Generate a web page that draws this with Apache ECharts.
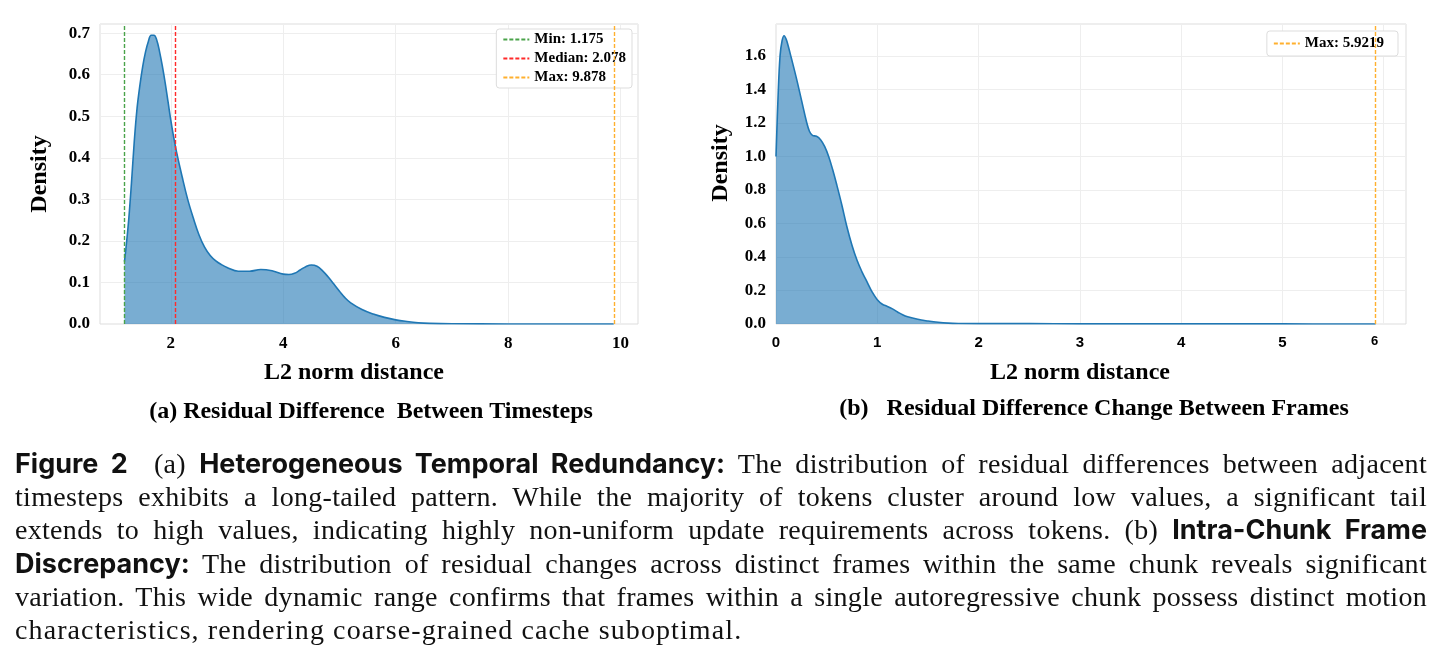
<!DOCTYPE html>
<html>
<head>
<meta charset="utf-8">
<script src="https://cdn.jsdelivr.net/npm/echarts@6/dist/echarts.min.js"></script>
<style>
  html, body { margin: 0; padding: 0; background: #fff; }
  #chart { position: absolute; left: 0; top: 0; width: 1444px; height: 668px; }
  #caption {
    position: absolute; left: 15px; top: 447px; width: 1412px;
    font-family: 'Liberation Serif', serif; font-size: 28px; line-height: 33.2px;
    letter-spacing: 0.3px; color: #111;
  }
  #caption div { text-align: justify; text-align-last: justify; white-space: nowrap; }
  #caption div.last { text-align-last: left; letter-spacing: 1.1px; }
  #caption b { font-family: Inter, sans-serif; font-weight: 700; font-size: 27px; letter-spacing: 0; }
</style>
</head>
<body>
<div id="chart"></div>
<div id="caption">
  <div><b>Figure 2</b>&nbsp; (a) <b>Heterogeneous Temporal Redundancy:</b> The distribution of residual differences between adjacent</div>
  <div>timesteps exhibits a long-tailed pattern. While the majority of tokens cluster around low values, a significant tail</div>
  <div>extends to high values, indicating highly non-uniform update requirements across tokens. (b) <b>Intra-Chunk Frame</b></div>
  <div><b>Discrepancy:</b> The distribution of residual changes across distinct frames within the same chunk reveals significant</div>
  <div>variation. This wide dynamic range confirms that frames within a single autoregressive chunk possess distinct motion</div>
  <div class="last">characteristics, rendering coarse-grained cache suboptimal.</div>
</div>
<script>
// (a) residual difference between timesteps - KDE
const leftX = [1.175, 1.2, 1.25, 1.3, 1.35, 1.4, 1.45, 1.5, 1.55, 1.6, 1.65, 1.7, 1.75, 1.8, 1.85, 1.9, 1.95, 2.0, 2.05, 2.1,
  2.2, 2.3, 2.4, 2.5, 2.6, 2.7, 2.8, 2.9, 3.0, 3.2, 3.4, 3.6, 3.8, 4.0, 4.1, 4.2, 4.3, 4.4, 4.5, 4.6, 4.7, 4.8, 4.9, 5.0,
  5.1, 5.2, 5.4, 5.6, 5.8, 6.0, 6.2, 6.4, 6.6, 7.0, 8.0, 9.0, 9.878];
const leftY = [0.15, 0.18, 0.25, 0.34, 0.44, 0.52, 0.575, 0.62, 0.655, 0.68, 0.695, 0.695, 0.683, 0.655, 0.62, 0.58, 0.535, 0.49, 0.45, 0.415,
  0.355, 0.3, 0.255, 0.215, 0.185, 0.165, 0.152, 0.143, 0.136, 0.127, 0.127, 0.131, 0.128, 0.12, 0.119, 0.122, 0.13, 0.138, 0.142, 0.139, 0.128, 0.113, 0.096, 0.079,
  0.063, 0.051, 0.035, 0.024, 0.016, 0.01, 0.006, 0.003, 0.0015, 0.0005, 0.0001, 0, 0];
const leftTicks = [2, 4, 6, 8, 10];
const leftStats = [['Min: 1.175', 1.175, '#4aa34a'], ['Median: 2.078', 2.078, '#ff2a2a'], ['Max: 9.878', 9.878, '#ffb02e']];

// (b) residual difference change between frames
const rightX = [0, 0.02, 0.04, 0.06, 0.08, 0.1, 0.12, 0.15, 0.2, 0.25, 0.3, 0.33, 0.36, 0.4, 0.44, 0.48, 0.52, 0.56, 0.6, 0.65,
  0.7, 0.75, 0.8, 0.85, 0.9, 0.95, 1.0, 1.05, 1.1, 1.15, 1.2, 1.25, 1.3, 1.4, 1.5, 1.6, 1.7, 1.8, 2.0, 2.5, 3.0, 4.0, 5.0, 5.92];
const rightY = [1.0, 1.35, 1.6, 1.69, 1.72, 1.70, 1.66, 1.59, 1.47, 1.34, 1.21, 1.15, 1.125, 1.12, 1.10, 1.06, 1.0, 0.92, 0.83, 0.71,
  0.58, 0.47, 0.38, 0.31, 0.25, 0.19, 0.145, 0.118, 0.105, 0.09, 0.072, 0.055, 0.043, 0.028, 0.018, 0.01, 0.005, 0.003, 0.002, 0.002, 0.001, 0.001, 0.0005, 0];
const rightTicks = [0, 1, 2, 3, 4, 5, 6];
const rightStats = [['Max: 5.9219', 5.9219, '#ffb02e']];

const serif = 'Liberation Serif';
const blue = '#1f77b4';
const chart = echarts.init(document.getElementById('chart'));

function axisX(grid, min, max, ticks, sans, namePad) {
  const last = ticks[ticks.length - 1];
  return {
    type: 'value', gridIndex: grid, min: min, max: max,
    name: 'L2 norm distance', nameLocation: 'middle', nameGap: 37,
    nameTextStyle: { fontFamily: serif, fontWeight: 'bold', fontSize: 24, color: '#000', padding: [0, namePad, 0, 0] },
    axisLine: { show: false },
    axisTick: { show: false, customValues: ticks },
    splitLine: { lineStyle: { color: '#eeeeee', width: 1 } },
    axisLabel: {
      margin: 11, color: '#000', fontWeight: 'bold',
      fontFamily: sans ? 'Liberation Sans' : serif, fontSize: sans ? 15 : 17,
      customValues: ticks,
      formatter: function (v) {
        if (sans && v === last) return '{s|' + v + '}';
        return String(v);
      },
      rich: { s: { fontFamily: 'Liberation Sans', fontWeight: 'bold', fontSize: 13, padding: [0, 18, 4, 0] } }
    }
  };
}
function axisY(grid, max, interval, gap, namePad) {
  return {
    type: 'value', gridIndex: grid, min: 0, max: max, interval: interval,
    name: 'Density', nameLocation: 'middle', nameGap: gap,
    nameTextStyle: { fontFamily: serif, fontWeight: 'bold', fontSize: 24, color: '#000', padding: [0, 0, 0, namePad] },
    axisLine: { show: false }, axisTick: { show: false },
    splitLine: { lineStyle: { color: '#eeeeee', width: 1 } },
    axisLabel: {
      margin: 10, color: '#000', fontWeight: 'bold', fontFamily: serif, fontSize: 17,
      showMaxLabel: false,
      formatter: function (v) { return v.toFixed(1); }
    }
  };
}
function statSeries(s, ax) {
  return {
    name: s[0], type: 'line', xAxisIndex: ax, yAxisIndex: ax, data: [], z: 10,
    symbol: 'none', lineStyle: { color: s[2], type: [4, 2], width: 1.4 },
    itemStyle: { color: s[2] },
    markLine: {
      silent: true, symbol: 'none', label: { show: false }, z: 10,
      lineStyle: { color: s[2], type: [4, 2], width: 1.4, opacity: 1 },
      data: [{ xAxis: s[1] }]
    }
  };
}
function legendOf(stats, right, top, pad) {
  return {
    data: stats.map(s => s[0]),
    orient: 'vertical', right: right, top: top,
    backgroundColor: '#fff', borderColor: '#dddddd', borderWidth: 1, borderRadius: 3,
    padding: pad, itemGap: 4, itemWidth: 26, itemHeight: 14,
    itemStyle: { opacity: 0 },
    textStyle: { fontFamily: serif, fontWeight: 'bold', fontSize: 15, color: '#000' }
  };
}

const option = {
  backgroundColor: '#fff',
  animation: false,
  grid: [
    { left: 100, top: 24, width: 538, height: 300, show: true, borderColor: '#dddddd', borderWidth: 1, backgroundColor: 'transparent' },
    { left: 776, top: 24, width: 630, height: 300, show: true, borderColor: '#dddddd', borderWidth: 1, backgroundColor: 'transparent' }
  ],
  xAxis: [axisX(0, 0.74, 10.31, leftTicks, false, 30), axisX(1, 0, 6.22, rightTicks, true, 22)],
  yAxis: [axisY(0, 0.722, 0.1, 48, 0), axisY(1, 1.79, 0.2, 43, 22)],
  legend: [legendOf(leftStats, 812, 29, [3, 6, 3, 6]), legendOf(rightStats, 46, 31, [5, 14, 5, 6])],
  graphic: [
    { type: 'text', x: 371, y: 412, style: { text: '(a) Residual Difference  Between Timesteps', textAlign: 'center', textVerticalAlign: 'middle', fontFamily: serif, fontWeight: 'bold', fontSize: 24, fill: '#000' } },
    { type: 'text', x: 1094, y: 409, style: { text: '(b)   Residual Difference Change Between Frames', textAlign: 'center', textVerticalAlign: 'middle', fontFamily: serif, fontWeight: 'bold', fontSize: 24, fill: '#000' } }
  ],
  series: [
    {
      type: 'line', xAxisIndex: 0, yAxisIndex: 0, smooth: 0.4, symbol: 'none', z: 1,
      data: leftX.map((x, i) => [x, leftY[i]]),
      lineStyle: { color: blue, width: 1.6 },
      areaStyle: { color: blue, opacity: 0.6 }
    },
    {
      type: 'line', xAxisIndex: 1, yAxisIndex: 1, smooth: 0.4, symbol: 'none', z: 1,
      data: rightX.map((x, i) => [x, rightY[i]]),
      lineStyle: { color: blue, width: 1.6 },
      areaStyle: { color: blue, opacity: 0.6 }
    }
  ].concat(leftStats.map(s => statSeries(s, 0)), rightStats.map(s => statSeries(s, 1)))
};

chart.setOption(option);
</script>
</body>
</html>
